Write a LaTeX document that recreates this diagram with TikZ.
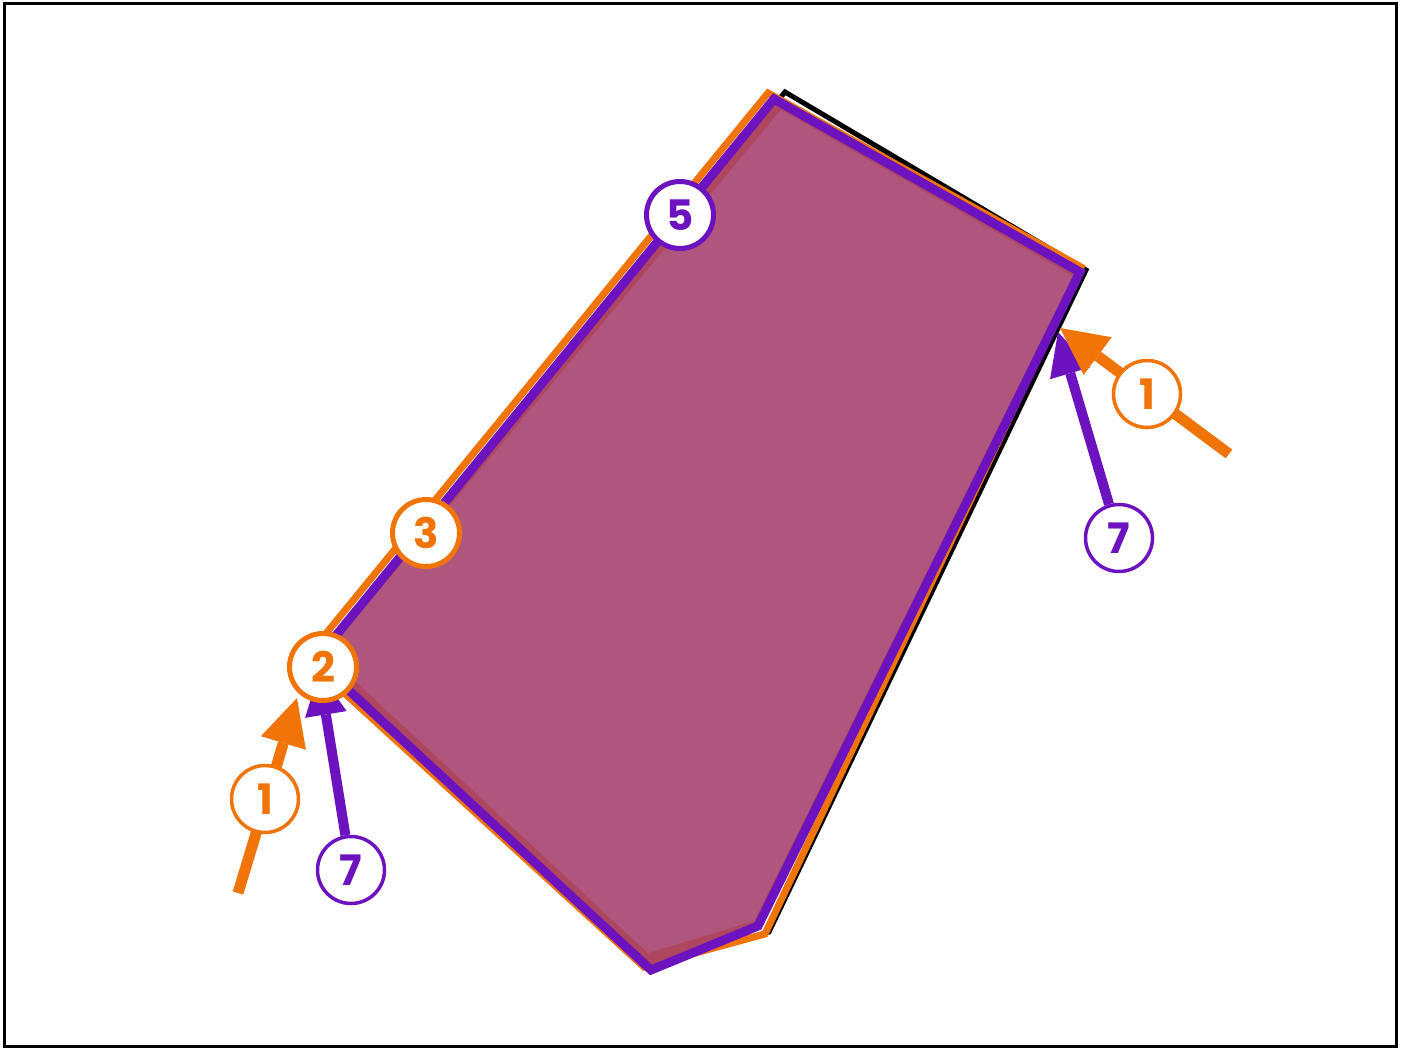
\documentclass[tikz,border=0pt]{standalone}
\usepackage{fontspec}
\newfontfamily\badgefont{Poppins}
\usetikzlibrary{arrows.meta}

\definecolor{markorange}{HTML}{F07408}
\definecolor{markpurple}{HTML}{6C13BF}
\definecolor{regionfill}{HTML}{B0567E}
\definecolor{regionedge}{HTML}{AE4660}

\begin{document}
\begin{tikzpicture}[
  x=1pt,y=-1pt,
  badge/.style={circle, draw=#1, fill=white, text=#1, line width=5pt,
    minimum size=67pt, inner sep=0pt,
    font=\badgefont\bfseries\fontsize{42}{42}\selectfont},
  thinbadge/.style={badge=#1, line width=3.5pt, minimum size=67pt},
  opointer/.style={draw=markorange, line width=11pt,
    -{Triangle[length=47pt,width=47pt,line width=0pt]}},
  ppointer/.style={draw=markpurple, line width=10pt,
    -{Triangle[length=43pt,width=42pt,line width=0pt]}}
]
\useasboundingbox (0,0) rectangle (1405,1048);

% Frame
\draw[line width=3pt] (4,4) rectangle (1396.5,1046.5);

% Outlines of the region: black, orange, then filled purple on top
\draw[line width=5pt, black] (785,92) -- (1086,270) -- (769,932) -- (648,966) -- (316,660) -- cycle;
\draw[line width=7pt, markorange] (768,93) -- (1081,267) -- (765,934) -- (644,967) -- (306,658) -- cycle;
\fill[regionedge] (774,99) -- (1080,272) -- (758,926) -- (651,970) -- (316,660) -- cycle;
\fill[regionfill] (781,110) -- (1073,276) -- (754,921) -- (648,953) -- (326,654) -- cycle;
\draw[line width=9pt, markpurple] (774,99) -- (1080,272) -- (758,926) -- (651,970) -- (316,660) -- cycle;

% Free ends of the pointers
\coordinate (tailR) at (1229,454);
\coordinate (tipR)  at (1060,328);
\coordinate (tailL) at (238,893);
\coordinate (tipL)  at (297,698);
\coordinate (tipPR) at (1058,332);
\coordinate (tipPL) at (319,672);

% Purple badges with their pointers
\node[thinbadge=markpurple] (b7R) at (1119,538) {7};
\node[thinbadge=markpurple] (b7L) at (351,870) {7};
\draw[ppointer] (b7R) -- (tipPR);
\draw[ppointer] (b7L) -- (tipPL);

% Orange pointers
\draw[opointer] (tailR) -- (tipR);
\draw[opointer] (tailL) -- (tipL);

% Badges on the pointers and on the edges
\node[thinbadge=markorange] (b1R) at (1147,394) {1};
\node[thinbadge=markorange] (b1L) at (265,799) {1};
\node[badge=markpurple] (b5) at (680,215) {5};
\node[badge=markorange] (b3) at (426,533) {3};
\node[badge=markorange] (b2) at (323,667) {2};

\end{tikzpicture}
\end{document}
